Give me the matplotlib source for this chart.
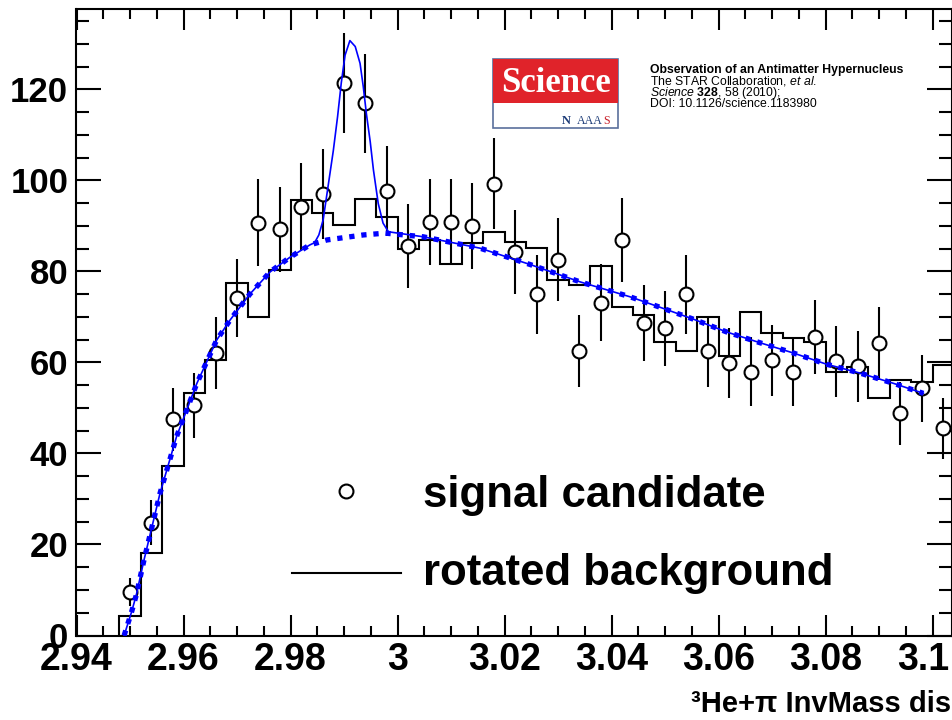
import matplotlib
matplotlib.use('Agg')
import matplotlib.pyplot as plt
import matplotlib.transforms as mtransforms
from matplotlib.lines import Line2D
from matplotlib.patches import Rectangle
import numpy as np

plt.rcParams['font.family'] = ['Liberation Sans', 'DejaVu Sans']
plt.rcParams['mathtext.fontset'] = 'custom'
plt.rcParams['mathtext.rm'] = 'Liberation Sans'
plt.rcParams['mathtext.it'] = 'Liberation Sans:italic'
plt.rcParams['mathtext.bf'] = 'Liberation Sans:bold'

# ---------------- data ----------------
bin_low = 2.948
bin_width = 0.004

# rotated background histogram (39 bins)
bkg_counts = [4.2, 18.2, 37.2, 53.2, 60.5, 77.4, 70.0, 80.4, 95.7, 92.9,
              90.2, 96.0, 92.0, 85.0, 86.9, 81.6, 86.2, 88.7, 86.5, 85.1,
              78.1, 77.0, 81.2, 72.2, 70.4, 64.5, 62.5, 69.9, 61.3, 71.0,
              66.4, 65.4, 64.4, 58.0, 59.0, 52.1, 56.1, 55.8, 59.4]

# signal candidates (one per bin)
sig_counts = [9.5, 24.8, 47.5, 50.6, 62.1, 74.1, 90.7, 89.2, 94.1, 97.0,
              121.3, 116.9, 97.7, 85.6, 90.9, 90.9, 90.0, 99.3, 84.3, 75.0,
              82.6, 62.6, 73.1, 86.9, 68.7, 67.5, 75.0, 62.4, 59.8, 58.0,
              60.5, 58.0, 65.6, 60.2, 59.1, 64.2, 48.8, 54.3, 45.5]
sig_errors = [3.1, 5.0, 6.9, 7.1, 7.9, 8.6, 9.5, 9.4, 9.7, 9.8,
              11.0, 10.8, 9.9, 9.3, 9.5, 9.5, 9.5, 10.0, 9.2, 8.7,
              9.1, 7.9, 8.5, 9.3, 8.3, 8.2, 8.7, 7.9, 7.7, 7.6,
              7.8, 7.6, 8.1, 7.8, 7.7, 8.0, 7.0, 7.4, 6.7]

# background fit curve
bkg_fit_x = [2.9489, 2.9503, 2.9512, 2.9526, 2.9556, 2.9587, 2.9625, 2.9662,
             2.9687, 2.9724, 2.9762, 2.9799, 2.9836, 2.9868, 2.9936, 2.9977,
             3.0048, 3.0154, 3.0248, 3.0341, 3.0435, 3.0491, 3.0553, 3.0615,
             3.0678, 3.0739, 3.0802, 3.0866, 3.0927, 3.0983]
bkg_fit_y = [0.0, 5.2, 9.0, 16.5, 31.2, 43.7, 55.4, 64.9,
             69.3, 75.0, 79.9, 83.1, 85.8, 86.9, 88.0, 88.4,
             87.6, 85.1, 81.5, 77.7, 74.4, 72.1, 69.5, 66.7,
             64.3, 62.1, 59.6, 57.6, 55.4, 53.2]

# signal + background fit curve
sig_fit_x = [2.9489, 2.9503, 2.9512, 2.9526, 2.9556, 2.9587, 2.9625, 2.9662,
             2.9687, 2.9724, 2.9762, 2.9799, 2.9836, 2.9845, 2.9853, 2.9861,
             2.9871, 2.9880, 2.9888, 2.9895, 2.9902, 2.9911, 2.9921, 2.9930,
             2.9936, 2.9942, 2.9949, 2.9955, 2.9964, 2.9973, 2.9983, 3.0048,
             3.0154, 3.0248, 3.0341, 3.0435, 3.0491, 3.0553, 3.0615, 3.0678,
             3.0739, 3.0802, 3.0866, 3.0927, 3.0983]
sig_fit_y = [0.0, 5.2, 9.0, 16.5, 31.2, 43.7, 55.4, 64.9,
             69.3, 75.0, 79.9, 83.1, 85.8, 86.3, 88.0, 91.3,
             99.3, 106.5, 114.0, 121.5, 127.5, 130.7, 129.4, 125.7,
             120.6, 114.5, 108.5, 102.3, 94.9, 90.6, 88.7, 87.6,
             85.1, 81.5, 77.7, 74.4, 72.1, 69.5, 66.7, 64.3,
             62.1, 59.6, 57.6, 55.4, 53.2]

xtick_values = [2.94, 2.96, 2.98, 3.00, 3.02, 3.04, 3.06, 3.08, 3.10]
xtick_labels = ['2.94', '2.96', '2.98', '3', '3.02', '3.04', '3.06', '3.08', '3.1']
ytick_values = [0, 20, 40, 60, 80, 100, 120]
ytick_labels = ['0', '20', '40', '60', '80', '100', '120']

legend_labels = ['signal candidate', 'rotated background']
xlabel_text = '\u00b3He+\u03c0 InvMass dis'

# ---------------- figure ----------------
W, H = 953, 720
fig = plt.figure(figsize=(W / 100, H / 100), dpi=100)

def fx(px):
    return px / W

def fy(py):
    return (H - py) / H

ax_l, ax_r, ax_b, ax_t = 76.5, 952.0, 635.5, 9.3
ax = fig.add_axes([fx(ax_l), fy(ax_b), (ax_r - ax_l) / W, (ax_b - ax_t) / H])
px_per_x = 107 / 0.02
px_per_y = (635.5 - 89.3) / 120
ax.set_xlim(2.94, 2.94 + (ax_r - ax_l) / px_per_x)
ax.set_ylim(0, (ax_b - ax_t) / px_per_y)

n = len(bkg_counts)
edges = bin_low + bin_width * np.arange(n + 1)
centers = 0.5 * (edges[:-1] + edges[1:])

ax.stairs(bkg_counts, edges, baseline=0, color='black', lw=1.5, zorder=2)
ax.errorbar(centers, sig_counts, yerr=sig_errors, fmt='none', ecolor='black',
            elinewidth=1.5, capsize=0, zorder=3)
ax.plot(centers, sig_counts, 'o', ms=10, mfc='white', mec='black', mew=1.5,
        zorder=4, clip_on=False)
ax.plot(sig_fit_x, sig_fit_y, color='#0000ff', lw=1.2, zorder=5)
ax.plot(bkg_fit_x, bkg_fit_y, color='#0000ff', lw=3.8, ls=(0, (1, 1.3)),
        dash_capstyle='butt', zorder=6)

# axes style
for s in ax.spines.values():
    s.set_linewidth(1.5)
ax.set_xticks(xtick_values, labels=xtick_labels)
ax.set_yticks(ytick_values, labels=ytick_labels)
ax.xaxis.set_minor_locator(matplotlib.ticker.MultipleLocator(0.005))
ax.yaxis.set_minor_locator(matplotlib.ticker.MultipleLocator(5))
ax.tick_params(axis='x', which='major', direction='in', top=True, length=15,
               width=1.5, pad=5, labelsize=27)
ax.tick_params(axis='x', which='minor', direction='in', top=True, length=7.5,
               width=1.5)
ax.tick_params(axis='y', which='major', direction='in', right=True, length=18,
               width=1.5, pad=6, labelsize=25)
ax.tick_params(axis='y', which='minor', direction='in', right=True, length=9.5,
               width=1.5)
for lab in ax.get_xticklabels() + ax.get_yticklabels():
    lab.set_fontweight('bold')
# ROOT keeps the last x label inside the canvas
last = ax.get_xticklabels()[-1]
last.set_transform(last.get_transform() +
                   mtransforms.ScaledTranslation(-9 / 100, 0, fig.dpi_scale_trans))

# x-axis title (right aligned, as in ROOT)
fig.text(fx(951), fy(712), xlabel_text, ha='right', va='baseline',
         fontsize=21, fontweight='bold')

# legend (manual, ROOT-like)
fig.add_artist(Line2D([fx(346)], [fy(491)], marker='o', ms=10, mfc='white',
                      mec='black', mew=1.5, ls='none', transform=fig.transFigure))
fig.add_artist(Line2D([fx(292), fx(401)], [fy(572.5), fy(572.5)], color='black',
                      lw=1.5, transform=fig.transFigure))
fig.text(fx(423), fy(506.5), legend_labels[0], ha='left', va='baseline',
         fontsize=31.5, fontweight='bold')
fig.text(fx(423), fy(585), legend_labels[1], ha='left', va='baseline',
         fontsize=31.5, fontweight='bold')

# Science logo
lx0, lx1, ly0, ly1, lmid = 493.3, 618.3, 59.3, 128.3, 102.7
fig.add_artist(Rectangle((fx(lx0), fy(ly1)), (lx1 - lx0) / W, (ly1 - ly0) / H,
                         transform=fig.transFigure, facecolor='white',
                         edgecolor='#5a6f9c', lw=1.2, zorder=10))
fig.add_artist(Rectangle((fx(lx0), fy(lmid)), (lx1 - lx0) / W, (lmid - ly0) / H,
                         transform=fig.transFigure, facecolor='#e0232a',
                         edgecolor='none', zorder=11))
fig.text(fx(556), fy(92), 'Science', ha='center', va='baseline',
         family='Liberation Serif', fontweight='bold', fontsize=25,
         color='white', zorder=12)
fig.text(fx(562), fy(124.3), 'N', ha='left', va='baseline',
         family='Liberation Serif', fontweight='bold', fontsize=9,
         color='#1d3c78', zorder=12)
fig.text(fx(577), fy(124.3), 'AAA', ha='left', va='baseline',
         family='Liberation Serif', fontsize=8.6, color='#1d3c78', zorder=12)
fig.text(fx(609.5), fy(124.3), 'S', ha='right', va='baseline',
         family='Liberation Serif', fontsize=8.6, color='#c8202a', zorder=12)

# citation block
cx = fx(650)
cfs = 8.8
fig.text(cx, fy(72.7), 'Observation of an Antimatter Hypernucleus',
         ha='left', va='baseline', fontsize=cfs, fontweight='bold')
fig.text(cx, fy(84.3), r'The STAR Collaboration, $\mathit{et\ al.}$',
         ha='left', va='baseline', fontsize=cfs)
fig.text(cx, fy(95.7), r'$\mathit{Science}$ $\mathbf{328}$, 58 (2010);',
         ha='left', va='baseline', fontsize=cfs)
fig.text(cx, fy(107.3), 'DOI: 10.1126/science.1183980',
         ha='left', va='baseline', fontsize=cfs)

fig.savefig('out.png', dpi=100)
